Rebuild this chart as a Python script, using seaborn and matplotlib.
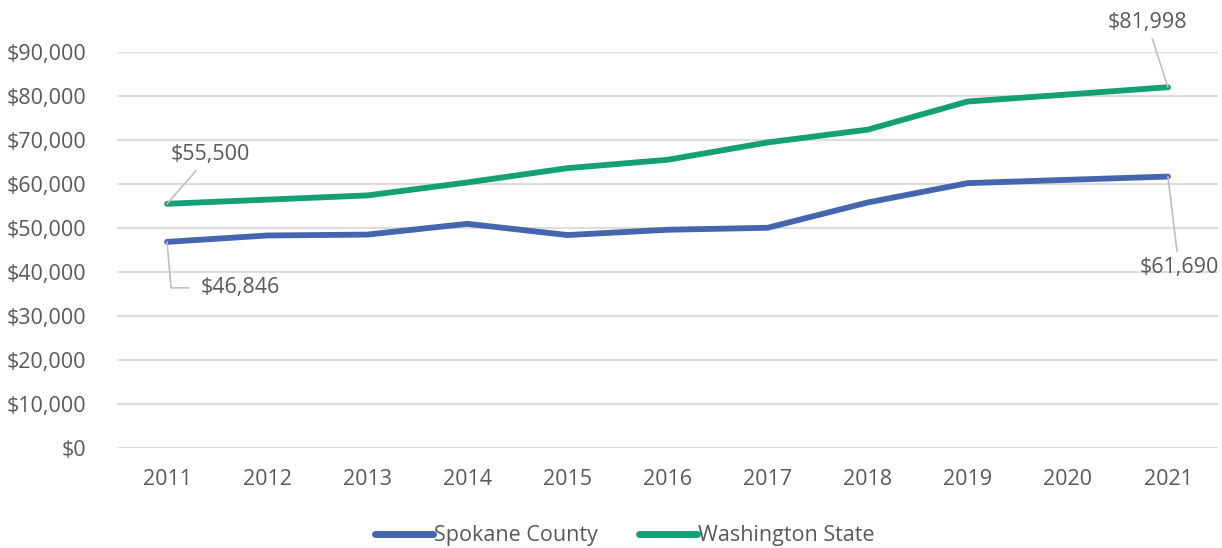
import matplotlib
matplotlib.use("Agg")
import matplotlib.pyplot as plt
import seaborn as sns
import pandas as pd

years = ["2011", "2012", "2013", "2014", "2015", "2016", "2017", "2018", "2019", "2020", "2021"]
spokane = [46846, 48300, 48500, 50950, 48400, 49600, 50050, 55800, 60200, 60950, 61690]
washington = [55500, 56450, 57400, 60350, 63600, 65500, 69450, 72350, 78750, 80350, 81998]
series_names = ["Spokane County", "Washington State"]
colors = ["#4466AE", "#14A072"]
y_ticks = [0, 10000, 20000, 30000, 40000, 50000, 60000, 70000, 80000, 90000]

sns.set_theme(style="white")
plt.rcParams["font.family"] = ["Open Sans", "DejaVu Sans"]
text_color = "#595959"
fs = 15.5

df = pd.DataFrame({
    "Year": years * 2,
    "Value": spokane + washington,
    "Series": [series_names[0]] * len(years) + [series_names[1]] * len(years),
})

fig = plt.figure(figsize=(12.22, 5.48), dpi=100)
ax = fig.add_axes([117 / 1222, 1 - 448 / 548, (1218 - 117) / 1222, (448 - 52) / 548])

sns.lineplot(data=df, x="Year", y="Value", hue="Series", palette=colors,
             linewidth=4.2, ax=ax, sort=False, legend=True)
for ln in ax.lines:
    ln.set_solid_capstyle("round")
    ln.set_solid_joinstyle("round")

ax.set_xlim(-0.5, len(years) - 0.5)
ax.set_ylim(0, 90000)
ax.set_yticks(y_ticks)
ax.set_yticklabels([f"${v:,.0f}" for v in y_ticks])
ax.yaxis.grid(True, color="#DDDDDD", linewidth=1.6)
ax.set_axisbelow(True)
for s in ax.spines.values():
    s.set_visible(False)
ax.tick_params(axis="y", length=0, pad=22, labelsize=fs, labelcolor=text_color)
ax.tick_params(axis="x", length=0, pad=15, labelsize=fs, labelcolor=text_color)
ax.set_xlabel("")
ax.set_ylabel("")

leg = ax.legend(loc="center", bbox_to_anchor=(0.461, -0.222), ncol=2, frameon=False,
                fontsize=fs, handlelength=2.7, handletextpad=0.05, columnspacing=1.9)
for t in leg.get_texts():
    t.set_color(text_color)
for h in leg.get_lines():
    h.set_linewidth(5)
    h.set_solid_capstyle("round")

lead = dict(arrowstyle="-", color="#BFBFBF", linewidth=1.2, shrinkA=2, shrinkB=0)
first, last = 0, len(years) - 1
ax.annotate(f"${washington[first]:,.0f}", xy=(first, washington[first]), xytext=(43, 49),
            textcoords="offset pixels", ha="center", va="center", fontsize=fs,
            color=text_color, arrowprops=lead, annotation_clip=False)
ax.annotate(f"${spokane[first]:,.0f}", xy=(first, spokane[first]), xytext=(73, -46),
            textcoords="offset pixels", ha="center", va="center", fontsize=fs,
            color=text_color, annotation_clip=False,
            arrowprops=dict(lead, connectionstyle="angle,angleA=180,angleB=95,rad=0", shrinkA=6))
ax.annotate(f"${washington[last]:,.0f}", xy=(last, washington[last]), xytext=(-21, 65),
            textcoords="offset pixels", ha="center", va="center", fontsize=fs,
            color=text_color, arrowprops=lead, annotation_clip=False)
ax.annotate(f"${spokane[last]:,.0f}", xy=(last, spokane[last]), xytext=(11, -91),
            textcoords="offset pixels", ha="center", va="center", fontsize=fs,
            color=text_color, arrowprops=lead, annotation_clip=False)

fig.savefig("out.png", dpi=100)
